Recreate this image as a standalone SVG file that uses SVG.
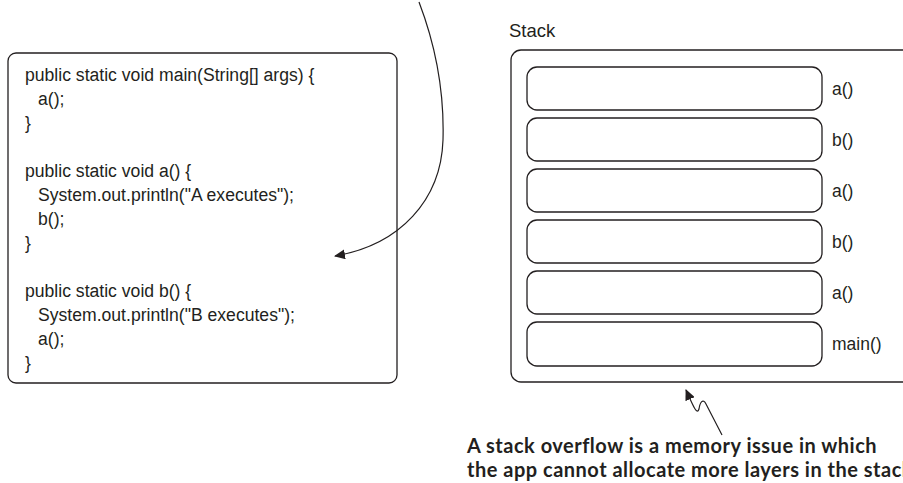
<svg xmlns="http://www.w3.org/2000/svg" width="903" height="483" viewBox="0 0 903 483">
<style>
.box{fill:#fff;stroke:#231f20;stroke-width:1.3}
.code{font-family:"Liberation Sans",Arial,sans-serif;font-size:17.6px;fill:#231f20}
.lbl{font-family:"Liberation Sans",Arial,sans-serif;font-size:17.5px;fill:#231f20}
.title{font-family:"Liberation Sans",Arial,sans-serif;font-size:18.5px;fill:#231f20}
.note{font-family:Lato,"Liberation Sans",sans-serif;font-weight:bold;font-size:20px;letter-spacing:0.5px;fill:#231f20}
.conn{fill:none;stroke:#231f20;stroke-width:1.2}
</style>
<defs>
<marker id="ah" markerWidth="12" markerHeight="10" refX="10" refY="5" orient="auto" markerUnits="userSpaceOnUse">
<path d="M0,0 L11,5 L0,10 Z" fill="#231f20"/>
</marker>
</defs>
<g id="code-box">
<rect class="box" x="8" y="53" width="389" height="330" rx="8"/>
<text class="code" x="25" y="81">public static void main(String[] args) {</text>
<text class="code" x="38" y="105">a();</text>
<text class="code" x="25" y="129">}</text>
<text class="code" x="25" y="177">public static void a() {</text>
<text class="code" x="38" y="201">System.out.println("A executes");</text>
<text class="code" x="38" y="225">b();</text>
<text class="code" x="25" y="249">}</text>
<text class="code" x="25" y="297">public static void b() {</text>
<text class="code" x="38" y="321">System.out.println("B executes");</text>
<text class="code" x="38" y="345">a();</text>
<text class="code" x="25" y="369">}</text>
</g>
<g id="stack">
<text class="title" x="509" y="37">Stack</text>
<rect class="box" x="511" y="50" width="410" height="332" rx="10"/>
</g>
<g id="frame-1"><rect class="box" x="527" y="67" width="295" height="43" rx="10"/><text class="lbl" x="832" y="95">a()</text></g>
<g id="frame-2"><rect class="box" x="527" y="118" width="295" height="43" rx="10"/><text class="lbl" x="832" y="146">b()</text></g>
<g id="frame-3"><rect class="box" x="527" y="169" width="295" height="43" rx="10"/><text class="lbl" x="832" y="197">a()</text></g>
<g id="frame-4"><rect class="box" x="527" y="220" width="295" height="43" rx="10"/><text class="lbl" x="832" y="248">b()</text></g>
<g id="frame-5"><rect class="box" x="527" y="271" width="295" height="43" rx="10"/><text class="lbl" x="832" y="299">a()</text></g>
<g id="frame-6"><rect class="box" x="527" y="322" width="295" height="44" rx="10"/><text class="lbl" x="832" y="350">main()</text></g>
<g id="note">
<text class="note" x="467" y="453">A stack overflow is a memory issue in which</text>
<text class="note" x="467" y="477">the app cannot allocate more layers in the stack</text>
</g>
<g id="connectors">
<path class="conn" d="M419,2 Q445,70 443,140 C441,200 400,245 335,256" marker-end="url(#ah)"/>
<path class="conn" d="M722,435 L706,404 C703,398 700,402 699,409 C697,415 694,408 686,390" marker-end="url(#ah)"/>
</g>
</svg>
